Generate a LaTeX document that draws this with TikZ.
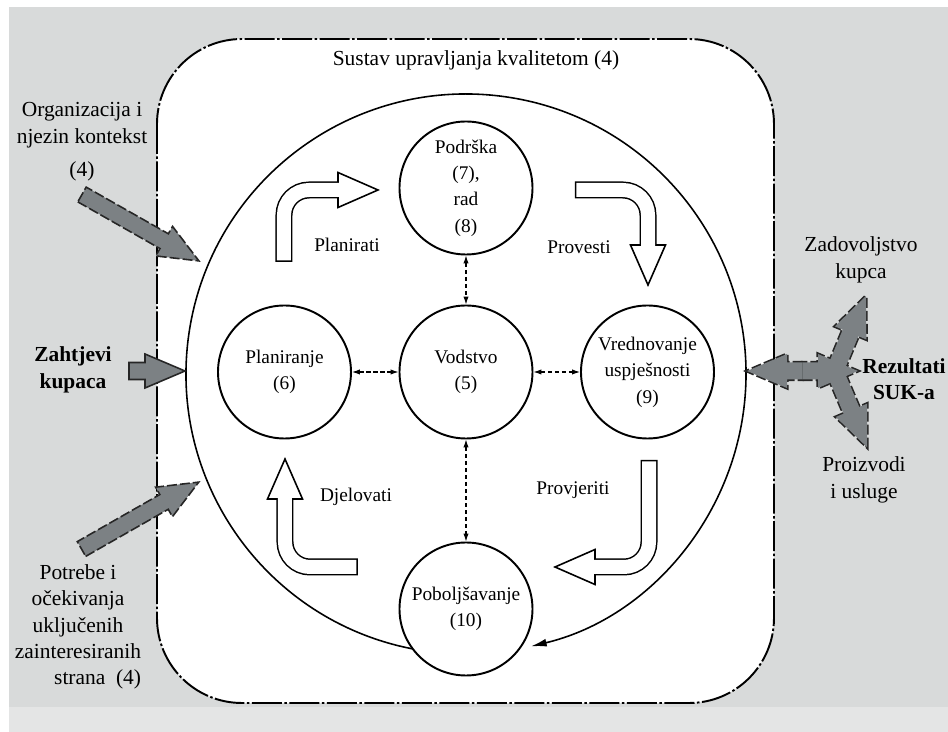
\documentclass[tikz,border=0pt]{standalone}
\usepackage{fontspec}
\setmainfont{Liberation Serif}
\usetikzlibrary{calc,arrows.meta}
\definecolor{bggray}{RGB}{216,218,218}
\definecolor{bandgray}{RGB}{228,229,229}
\definecolor{arrowgray}{RGB}{124,129,132}
\newcommand{\fatarrow}[4]{\path[#4,shift={#1},rotate=#2] (0,-.17) -- (#3-.8,-.17) -- (#3-.8,-.34) -- (#3,0) -- (#3-.8,.34) -- (#3-.8,.17) -- (0,.17) -- cycle;}
\newcommand{\bentarrow}[3]{%
	\coordinate (hb) at ($#3!.8cm!#2$);
	\draw[line width=.34cm,rounded corners=.5cm] #1 -- #2 -- (hb);
	\filldraw[fill=white,line width=.9pt] #3 -- ($(hb)!.35cm!90:#3$) -- ($(hb)!.35cm!-90:#3$) -- cycle;
	\draw[white,line width=.28cm,rounded corners=.5cm,shorten <=.03cm,shorten >=-.05cm] #1 -- #2 -- (hb);}

\begin{document}
\begin{tikzpicture}[every node/.style={font=\fontsize{11}{15}\selectfont},
		krug/.style={draw,circle,fill=white,line width=1.1pt,minimum size=2.66cm,inner sep=0pt,align=center},
		veza/.style={dash pattern=on 2.4pt off 1.6pt,line width=.6pt,{Latex[length=4.5pt,width=3pt]}-{Latex[length=4.5pt,width=3pt]}},
		vani/.style={align=center,font=\fontsize{12.2}{15}\selectfont},
		vanib/.style={align=center,font=\fontsize{12.2}{15}\selectfont\bfseries},
		siva/.style={fill=arrowgray,draw=black!85,line width=.9pt,dash pattern=on .2cm off .06cm},
		obrub/.style={draw=black!85,line width=1.8pt,dash pattern=on .2cm off .06cm},
		ispuna/.style={fill=arrowgray}]
		\useasboundingbox (-9.32,7.48) rectangle (9.64,-7.16);
		\fill[bggray] (-9.14,7.34) rectangle (9.64,-6.66);
		\fill[bandgray] (-9.14,-6.66) rectangle (9.64,-7.16);
		\draw[fill=white,line width=1.1pt,rounded corners=1.7cm,dash pattern=on .6cm off .05cm on .05cm off .05cm] (-6.18,6.7) rectangle (6.16,-6.58);
		\draw[line width=.9pt,-{Latex[length=9pt,width=4.5pt]}] (262:5.6) arc[start angle=262,end angle=-76.6,radius=5.6];
		
		\node[krug] (5) at (0,.04) {Vodstvo\\(5)};
		\node[krug] (6) at (-3.63,.04) {Planiranje\\(6)};
		\node[krug] (7) at (0,3.72) {Podrška\\(7),\\rad\\(8)};
		\node[krug] (9) at (3.63,.04) {Vrednovanje\\uspješnosti\\(9)};
		\node[krug] (10) at (0,-4.7) {Poboljšavanje\\(10)};
		
		\draw[veza] (6) -- (5);
		\draw[veza] (5) -- (9);
		\draw[veza] (7) -- (5);
		\draw[veza] (5) -- (10);
		
		\bentarrow{(-3.64,2.24)}{(-3.64,3.68)}{(-1.76,3.68)}
		\bentarrow{(2.18,3.68)}{(3.64,3.68)}{(3.64,1.78)}
		\bentarrow{(3.66,-1.72)}{(3.66,-3.86)}{(1.78,-3.86)}
		\bentarrow{(-2.16,-3.86)}{(-3.62,-3.86)}{(-3.62,-1.7)}
		\node (pl) at (-2.38,2.58) {Planirati};
		\node (pr) at (2.26,2.54) {Provesti};
		\node (pj) at (2.14,-2.32) {Provjeriti};
		\node (dj) at (-2.2,-2.46) {Djelovati};
		
		\fatarrow{(-7.68,3.59)}{-29.6}{2.69}{siva}
		\fatarrow{(-6.74,.06)}{0}{1.12}{fill=arrowgray,draw=black!85,line width=.9pt}
		\fatarrow{(-7.69,-3.5)}{29.7}{2.7}{siva}
		\fatarrow{(6.73,.06)}{180}{1.11}{obrub}
		\fatarrow{(6.73,.06)}{0}{1.11}{obrub}
		\fatarrow{(7.4,.12)}{67.4}{1.56}{obrub}
		\fatarrow{(7.4,0)}{-67}{1.59}{obrub}
		\fatarrow{(6.73,.06)}{180}{1.11}{ispuna}
		\fatarrow{(6.73,.06)}{0}{1.11}{ispuna}
		\fatarrow{(7.4,.12)}{67.4}{1.56}{ispuna}
		\fatarrow{(7.4,0)}{-67}{1.59}{ispuna}
		
		\node[vani] (sus) at (.2,6.28) {Sustav upravljanja kvalitetom (4)};
		\node[vani] (org) at (-7.68,4.64) {Organizacija i\\njezin kontekst\\[4pt](4)};
		\node[vanib] (zah) at (-7.86,.08) {Zahtjevi\\kupaca};
		\node[vani] (pot) at (-7.76,-5.06) {\begin{tabular}{@{}c@{}}Potrebe i\\očekivanja\\uključenih\\zainteresiranih\\\multicolumn{1}{@{}r@{}}{strana~~(4)}\end{tabular}};
		\node[vani] (zad) at (7.9,2.28) {Zadovoljstvo\\kupca};
		\node[vanib] (rez) at (8.76,-.1) {Rezultati\\SUK-a};
		\node[vani] (pro) at (7.96,-2.12) {Proizvodi\\i usluge};
\end{tikzpicture}
\end{document}
